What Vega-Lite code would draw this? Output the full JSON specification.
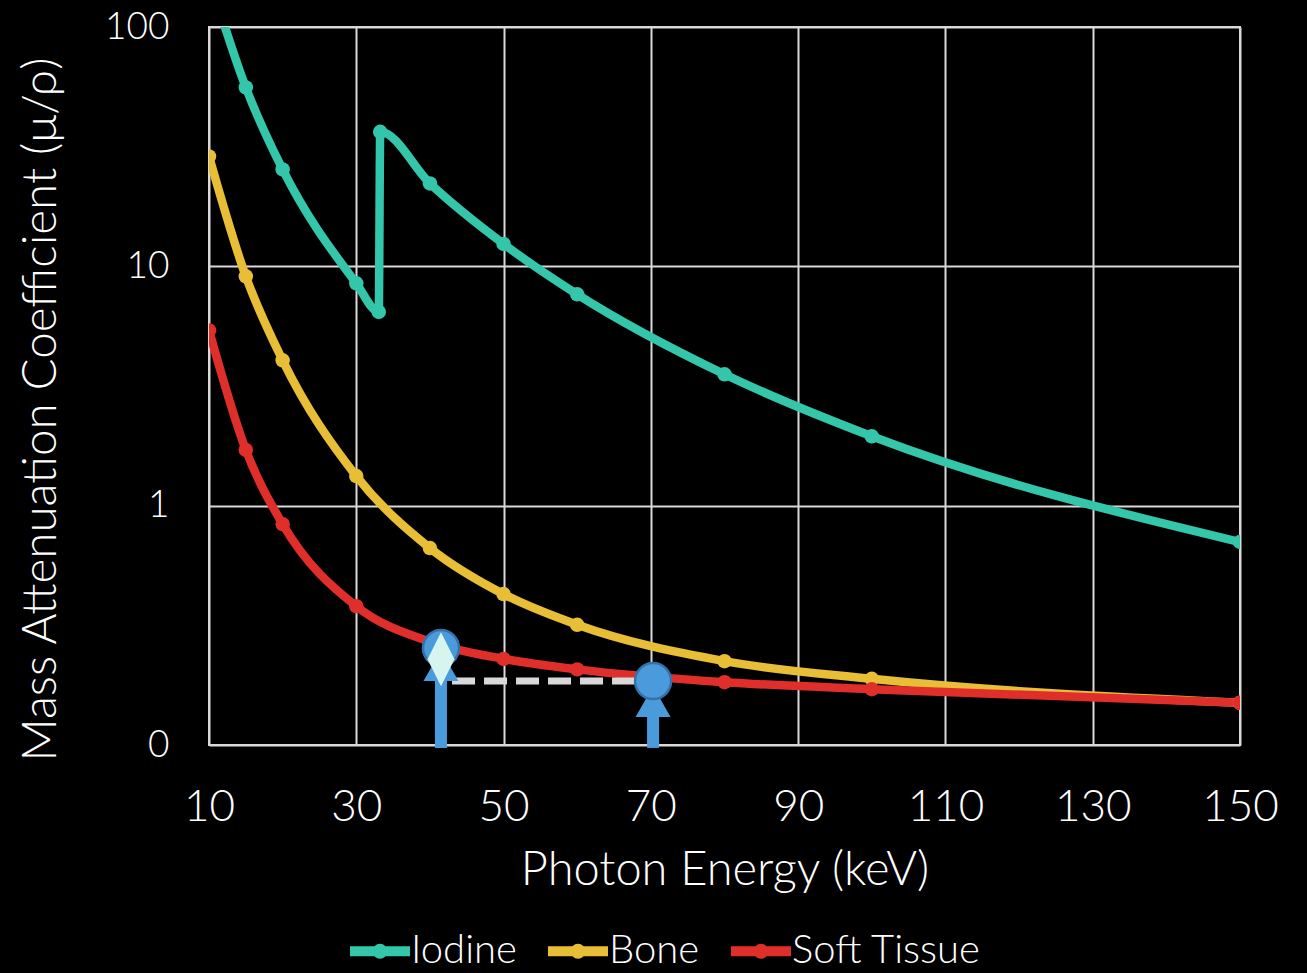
{
  "$schema": "https://vega.github.io/schema/vega-lite/v6.json",
  "width": 1031,
  "height": 718,
  "autosize": {"type": "none"},
  "padding": {"left": 209, "top": 27, "right": 67, "bottom": 228},
  "background": "#000000",
  "config": {
    "view": {"stroke": "#d9d9d9", "strokeWidth": 2},
    "font": "Lato",
    "axis": {
      "gridColor": "#d9d9d9",
      "gridWidth": 2,
      "gridOpacity": 1,
      "ticks": false,
      "domain": false,
      "labelColor": "#ffffff",
      "titleColor": "#ffffff",
      "titleFontWeight": 300,
      "labelFontWeight": 300,
      "labelFont": "Lato",
      "titleFont": "Lato",
      "labelFlush": false,
      "labelBound": false
    },
    "legend": {
      "orient": "none",
      "legendX": 136,
      "legendY": 889,
      "padding": 0,
      "direction": "horizontal",
      "symbolType": "M-1,0L1,0M0.083,0A0.083,0.083,0,1,1,-0.083,0A0.083,0.083,0,1,1,0.083,0",
      "symbolSize": 3600,
      "symbolStrokeWidth": 10,
      "labelFontSize": 40,
      "labelFontWeight": 300,
      "labelColor": "#ffffff",
      "labelOffset": -4,
      "labelLimit": 400,
      "columnPadding": 11,
      "labelFont": "Lato"
    }
  },
  "datasets": {
    "curves": [
      {"material": "Iodine", "energy": 10, "mu": 162},
      {"material": "Iodine", "energy": 15, "mu": 55.9},
      {"material": "Iodine", "energy": 20, "mu": 25.4},
      {"material": "Iodine", "energy": 30, "mu": 8.49},
      {"material": "Iodine", "energy": 33.05, "mu": 6.45},
      {"material": "Iodine", "energy": 33.25, "mu": 36.5},
      {"material": "Iodine", "energy": 40, "mu": 22.2},
      {"material": "Iodine", "energy": 50, "mu": 12.4},
      {"material": "Iodine", "energy": 60, "mu": 7.64},
      {"material": "Iodine", "energy": 80, "mu": 3.54},
      {"material": "Iodine", "energy": 100, "mu": 1.95},
      {"material": "Iodine", "energy": 150, "mu": 0.705},
      {"material": "Bone", "energy": 10, "mu": 28.8},
      {"material": "Bone", "energy": 15, "mu": 9.08},
      {"material": "Bone", "energy": 20, "mu": 4.05},
      {"material": "Bone", "energy": 30, "mu": 1.33},
      {"material": "Bone", "energy": 40, "mu": 0.665},
      {"material": "Bone", "energy": 50, "mu": 0.427},
      {"material": "Bone", "energy": 60, "mu": 0.318},
      {"material": "Bone", "energy": 80, "mu": 0.224},
      {"material": "Bone", "energy": 100, "mu": 0.189},
      {"material": "Bone", "energy": 150, "mu": 0.15},
      {"material": "Soft Tissue", "energy": 10, "mu": 5.4},
      {"material": "Soft Tissue", "energy": 15, "mu": 1.71},
      {"material": "Soft Tissue", "energy": 20, "mu": 0.837},
      {"material": "Soft Tissue", "energy": 30, "mu": 0.38},
      {"material": "Soft Tissue", "energy": 40, "mu": 0.27},
      {"material": "Soft Tissue", "energy": 50, "mu": 0.229},
      {"material": "Soft Tissue", "energy": 60, "mu": 0.207},
      {"material": "Soft Tissue", "energy": 80, "mu": 0.183},
      {"material": "Soft Tissue", "energy": 100, "mu": 0.171},
      {"material": "Soft Tissue", "energy": 150, "mu": 0.15}
    ],
    "dash": [{"energy": 43, "energy2": 70.3, "mu": 0.185}],
    "shafts": [
      {"energy": 41.5, "mu": 0.0972, "mu2": 0.185},
      {"energy": 70.3, "mu": 0.0972, "mu2": 0.131}
    ],
    "heads": [
      {"energy": 41.5, "mu": 0.185},
      {"energy": 70.3, "mu": 0.131}
    ],
    "circles": [
      {"energy": 41.5, "mu": 0.254},
      {"energy": 70.3, "mu": 0.185}
    ],
    "diamonds": [{"energy": 41.5, "mu": 0.228}]
  },
  "encoding": {
    "x": {
      "field": "energy",
      "type": "quantitative",
      "scale": {"domain": [10, 150], "nice": false, "zero": false},
      "axis": {
        "values": [10, 30, 50, 70, 90, 110, 130, 150],
        "labelFontSize": 44,
        "labelPadding": 40,
        "title": "Photon Energy (keV)",
        "titleFontSize": 47,
        "titleBaseline": "middle",
        "titleY": 125
      }
    },
    "y": {
      "field": "mu",
      "type": "quantitative",
      "scale": {"type": "log", "domain": [0.1, 100], "nice": false},
      "axis": {
        "values": [0.1, 1, 10, 100],
        "labelExpr": "datum.value < 0.5 ? '0' : format(datum.value, 'd')",
        "labelFontSize": 37,
        "labelPadding": 40,
        "title": "Mass Attenuation Coefficient (μ/ρ)",
        "titleFontSize": 47.5,
        "titleAngle": -90,
        "titleBaseline": "middle",
        "titleAlign": "center",
        "titleX": -168,
        "titleY": 382
      }
    }
  },
  "layer": [
    {
      "data": {"name": "curves"},
      "mark": {"type": "line", "interpolate": "monotone", "strokeWidth": 8.5, "clip": true, "strokeCap": "round", "strokeJoin": "round"},
      "encoding": {
        "color": {
          "field": "material",
          "type": "nominal",
          "sort": ["Iodine", "Bone", "Soft Tissue"],
          "scale": {"domain": ["Iodine", "Bone", "Soft Tissue"], "range": ["#33c6aa", "#e8be36", "#e02f2a"]},
          "legend": {"title": null}
        }
      }
    },
    {
      "data": {"name": "curves"},
      "mark": {"type": "point", "filled": true, "size": 210, "opacity": 1, "clip": true, "strokeWidth": 0},
      "encoding": {
        "color": {
          "field": "material",
          "type": "nominal",
          "sort": ["Iodine", "Bone", "Soft Tissue"],
          "scale": {"domain": ["Iodine", "Bone", "Soft Tissue"], "range": ["#33c6aa", "#e8be36", "#e02f2a"]},
          "legend": {"title": null}
        }
      }
    },
    {
      "data": {"name": "dash"},
      "mark": {"type": "rule", "color": "#d9d9d9", "strokeWidth": 7, "strokeDash": [23, 9]},
      "encoding": {"x2": {"field": "energy2"}}
    },
    {
      "data": {"name": "shafts"},
      "mark": {"type": "rule", "color": "#4a9bdc", "strokeWidth": 12},
      "encoding": {"y2": {"field": "mu2"}}
    },
    {
      "data": {"name": "heads"},
      "mark": {"type": "point", "shape": "M-1,0L0,-1.75L1,0Z", "filled": true, "opacity": 1, "size": 1225, "color": "#4a9bdc", "strokeWidth": 0}
    },
    {
      "data": {"name": "circles"},
      "mark": {"type": "point", "shape": "circle", "filled": true, "opacity": 1, "size": 1296, "fill": "#4a9bdc", "stroke": "#3572ab", "strokeWidth": 2.5}
    },
    {
      "data": {"name": "diamonds"},
      "mark": {"type": "point", "shape": "M0,-1L0.5,0L0,1L-0.5,0Z", "filled": true, "opacity": 1, "size": 2916, "color": "#d6f5ef", "strokeWidth": 0}
    }
  ]
}
